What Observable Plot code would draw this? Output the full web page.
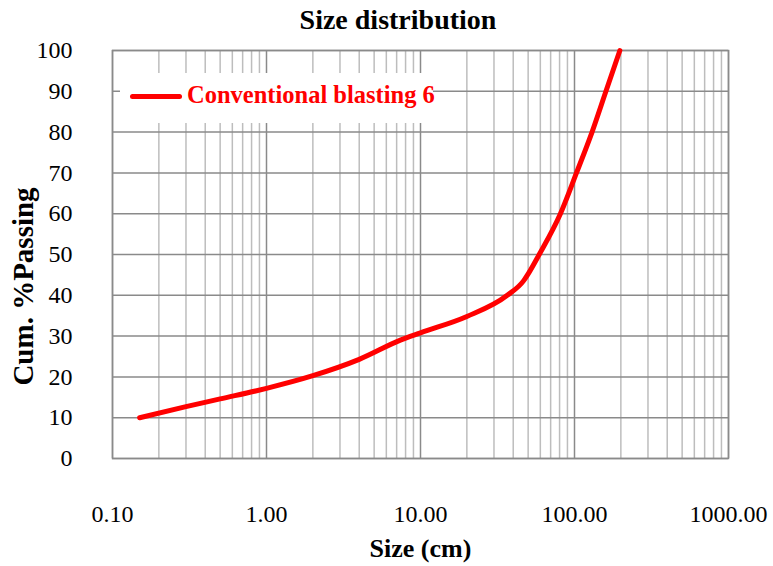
<!DOCTYPE html>
<html>
<head>
<meta charset="utf-8">
<script src="https://cdn.jsdelivr.net/npm/d3@7"></script>
<script src="https://cdn.jsdelivr.net/npm/@observablehq/plot@0.6"></script>
<style>
  body { margin: 0; background: white; }
  #wrap { position: relative; width: 773px; height: 566px; font-family: "Liberation Serif", "DejaVu Serif", serif; }
  #title { position: absolute; left: 0; width: 796px; top: 4px; text-align: center; font-weight: bold; font-size: 28px; }
  #legend { position: absolute; left: 120px; top: 73px; width: 313px; height: 50px; background: white; }
  #legend .sw { position: absolute; left: 10px; top: 21px; width: 52px; height: 5px; background: #ff0000; border-radius: 3px; }
  #legend .lb { position: absolute; left: 67px; top: 8px; color: #ff0000; font-weight: bold; font-size: 24.5px; white-space: nowrap; }
  svg text { font-family: "Liberation Serif", "DejaVu Serif", serif; }
  [aria-label="x-axis label"] text { font-weight: bold; font-size: 26px; }
  [aria-label="y-axis label"] text { font-weight: bold; font-size: 29px; }
</style>
</head>
<body>
<div id="wrap">
  <div id="chart"></div>
  <div id="title">Size distribution</div>
  <div id="legend"><div class="sw"></div><div class="lb">Conventional blasting 6</div></div>
</div>
<script>
const seriesName = "Conventional blasting 6";
const sizes   = [0.15, 0.3, 0.5, 1.0, 2.0, 4.0, 7.4, 10, 20, 36.6, 46.8, 50.5, 59, 81, 103, 130, 160, 197];
const passing = [10, 12.7, 14.6, 17.2, 20.3, 24.3, 29.0, 30.8, 34.8, 40, 43.6, 45.5, 50, 60, 70, 80, 90, 100];
const xTicks = [0.1, 1, 10, 100, 1000];
const yTicks = [0, 10, 20, 30, 40, 50, 60, 70, 80, 90, 100];
const minorX = [];
for (let d = 0.1; d < 1000; d *= 10) for (let k = 2; k <= 9; k++) minorX.push(+(d * k).toPrecision(3));

const data = sizes.map((s, i) => ({size: s, pass: passing[i]}));

const chart = Plot.plot({
  width: 773,
  height: 566,
  marginLeft: 112,
  marginRight: 45,
  marginTop: 50,
  marginBottom: 108,
  style: {fontFamily: "Liberation Serif, DejaVu Serif, serif", fontSize: "24px", color: "#000", background: "white"},
  x: {type: "log", domain: [0.1, 1000]},
  y: {domain: [0, 100]},
  marks: [
    Plot.ruleX(minorX, {stroke: "#bdbdbd", strokeWidth: 1.5}),
    Plot.ruleX(xTicks, {stroke: "#8a8a8a", strokeWidth: 1.5}),
    Plot.ruleY(yTicks, {stroke: "#8a8a8a", strokeWidth: 1.5}),
    Plot.frame({stroke: "#8a8a8a", strokeWidth: 1.5}),
    Plot.axisX(xTicks, {tickSize: 0, tickPadding: 46, tickFormat: d3.format(".2f"), label: "Size (cm)", labelAnchor: "center", labelArrow: "none", labelOffset: 98, fontSize: 24}),
    Plot.axisY(yTicks, {tickSize: 0, tickPadding: 40, label: "Cum. %Passing", labelAnchor: "center", labelArrow: "none", labelOffset: 100, fontSize: 24}),
    Plot.line(data, {x: "size", y: "pass", stroke: "#ff0000", strokeWidth: 5, curve: "monotone-x", strokeLinecap: "round"})
  ]
});
const yl = chart.querySelector('[aria-label="y-axis label"]');
if (yl) yl.setAttribute("transform", "translate(0,32) " + (yl.getAttribute("transform") || ""));
document.getElementById("chart").appendChild(chart);
</script>
</body>
</html>
